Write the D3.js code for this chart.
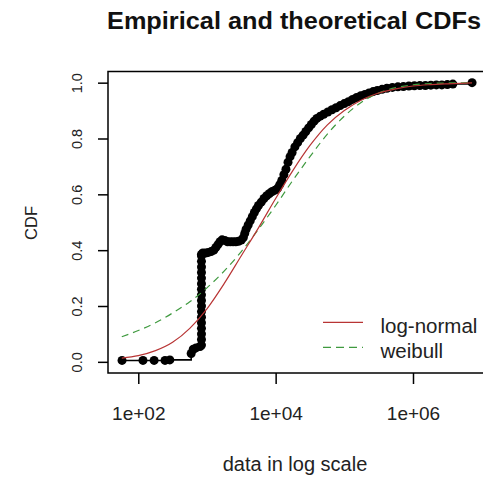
<!DOCTYPE html>
<html>
<head>
<meta charset="utf-8">
<script src="https://cdn.jsdelivr.net/npm/d3@7"></script>
<style>
  body { margin: 0; background: #fff; }
  svg { display: block; font-family: "Liberation Sans", Arial, sans-serif; }
</style>
</head>
<body>
<svg id="chart"></svg>
<script>
// empirical sample (sorted) and its cumulative proportions
const empX = [58, 117, 170, 245, 288, 589, 631, 692, 794,
  832, 832, 832, 832, 832, 832, 832, 832, 832, 832, 832, 832, 832, 832, 832, 832, 832, 832,
  871, 955, 1047, 1148, 1259, 1349, 1445, 1549, 1660, 1820, 1995, 2188, 2399, 2630,
  2884, 3162, 3388, 3548, 3715, 3981, 4266, 4571, 4898, 5248, 5623, 6166, 6761,
  7413, 8128, 8913, 9772, 10720, 11480, 12300, 13180, 14130, 15140, 16220, 17380,
  19050, 20890, 22910, 25120, 27540, 30200, 33110, 36310, 39810, 44670, 50120,
  57540, 66070, 75860, 87100, 100000, 114800, 131800, 151400, 173800, 199500,
  229100, 263000, 302000, 354800, 416900, 501200, 602600, 724400, 871000,
  1047000, 1259000, 1514000, 1820000, 2188000, 2630000, 3162000, 3802000, 7244000];
const empP = [0.005, 0.005, 0.005, 0.005, 0.007, 0.03, 0.045, 0.05, 0.055,
  0.06, 0.08, 0.10, 0.12, 0.14, 0.16, 0.18, 0.20, 0.22, 0.24, 0.26, 0.28, 0.30, 0.32, 0.34, 0.36, 0.38, 0.385,
  0.39, 0.39, 0.392, 0.395, 0.40, 0.41, 0.42, 0.43, 0.437, 0.435, 0.43, 0.43, 0.43, 0.43,
  0.432, 0.436, 0.445, 0.46, 0.475, 0.49, 0.505, 0.52, 0.535, 0.548, 0.56, 0.572, 0.585,
  0.595, 0.603, 0.61, 0.615, 0.622, 0.635, 0.65, 0.67, 0.69, 0.715, 0.735, 0.75,
  0.77, 0.785, 0.80, 0.812, 0.825, 0.838, 0.85, 0.862, 0.872, 0.88, 0.887,
  0.895, 0.903, 0.91, 0.918, 0.925, 0.932, 0.94, 0.947, 0.953, 0.958,
  0.963, 0.968, 0.972, 0.976, 0.98, 0.983, 0.985, 0.986, 0.988,
  0.989, 0.99, 0.99, 0.991, 0.992, 0.992, 0.993, 0.995, 1.0];

// theoretical curves read at a grid of x values
const fitX = [57.5, 100, 178, 316, 562, 1000, 1778, 3162, 5623, 10000, 17783,
  31623, 56234, 100000, 177828, 316228, 562341, 1000000, 1778279, 3162278, 7244360];
const lognormP = [0.013, 0.022, 0.04, 0.07, 0.12, 0.19, 0.28, 0.38, 0.48, 0.585, 0.685,
  0.775, 0.848, 0.90, 0.938, 0.963, 0.978, 0.988, 0.993, 0.996, 0.999];
const weibullP = [0.09, 0.112, 0.14, 0.175, 0.215, 0.265, 0.325, 0.395, 0.475, 0.56, 0.65,
  0.735, 0.815, 0.88, 0.93, 0.963, 0.982, 0.992, 0.997, 0.999, 1.0];

const xTicks = [1e2, 1e4, 1e6];
const xTickLabels = ["1e+02", "1e+04", "1e+06"];
const yTicks = [0, 0.2, 0.4, 0.6, 0.8, 1.0];
const legendNames = ["log-normal", "weibull"];

const width = 483;
const height = 477;
const plot = { left: 108, right: 486, top: 71.5, bottom: 373 };
const red = "#b83434";
const green = "#3f9a3f";

const svg = d3.select("#chart").attr("width", width).attr("height", height);

const x = d3.scaleLog()
  .domain([Math.pow(10, 1.559), Math.pow(10, 7.063)])
  .range([plot.left, plot.right]);

const y = d3.scaleLinear()
  .domain([-0.04, 1.04])
  .range([plot.bottom, plot.top]);

// empirical cdf: steps then points
const emp = empX.map((v, i) => ({ x: v, p: empP[i] }));

svg.append("path")
  .datum(emp)
  .attr("fill", "none")
  .attr("stroke", "#000")
  .attr("stroke-width", 1.6)
  .attr("d", d3.line().x(d => x(d.x)).y(d => y(d.p)).curve(d3.curveStepAfter));

svg.append("g")
  .selectAll("circle")
  .data(emp)
  .join("circle")
  .attr("cx", d => x(d.x))
  .attr("cy", d => y(d.p))
  .attr("r", 4.5)
  .attr("fill", "#000");

// fitted distributions
const fitLine = d3.line().x(d => x(d.x)).y(d => y(d.p)).curve(d3.curveMonotoneX);

svg.append("path")
  .datum(fitX.map((v, i) => ({ x: v, p: weibullP[i] })))
  .attr("fill", "none")
  .attr("stroke", green)
  .attr("stroke-width", 1.2)
  .attr("stroke-dasharray", "7,5")
  .attr("d", fitLine);

svg.append("path")
  .datum(fitX.map((v, i) => ({ x: v, p: lognormP[i] })))
  .attr("fill", "none")
  .attr("stroke", red)
  .attr("stroke-width", 1.2)
  .attr("d", fitLine);

// frame
svg.append("rect")
  .attr("x", plot.left)
  .attr("y", plot.top)
  .attr("width", plot.right - plot.left)
  .attr("height", plot.bottom - plot.top)
  .attr("fill", "none")
  .attr("stroke", "#000")
  .attr("stroke-width", 1.5);

// x axis
const xAxis = svg.append("g")
  .attr("transform", `translate(0,${plot.bottom})`)
  .call(d3.axisBottom(x).tickValues(xTicks).tickSize(11).tickSizeOuter(0)
    .tickFormat((d, i) => xTickLabels[i]));
xAxis.select(".domain").remove();
xAxis.selectAll("line").attr("stroke-width", 1.5);
xAxis.selectAll("text")
  .attr("y", 47)
  .attr("dy", null)
  .attr("fill", "#222")
  .attr("font-family", null)
  .attr("font-size", 19);

// y axis
const yAxis = svg.append("g")
  .attr("transform", `translate(${plot.left},0)`)
  .call(d3.axisLeft(y).tickValues(yTicks).tickSize(10).tickSizeOuter(0)
    .tickFormat(d3.format(".1f")));
yAxis.select(".domain").remove();
yAxis.selectAll("line").attr("stroke-width", 1.5);
yAxis.selectAll("text")
  .attr("x", null)
  .attr("dy", null)
  .attr("text-anchor", "middle")
  .attr("transform", "translate(-26.3,0) rotate(-90)")
  .attr("fill", "#222")
  .attr("font-family", null)
  .attr("font-size", 14.5);

// titles
svg.append("text")
  .attr("x", 107)
  .attr("y", 29)
  .attr("textLength", 374)
  .attr("lengthAdjust", "spacingAndGlyphs")
  .attr("font-size", 23)
  .attr("font-weight", "bold")
  .attr("fill", "#111")
  .text("Empirical and theoretical CDFs");

svg.append("text")
  .attr("x", 295)
  .attr("y", 471)
  .attr("text-anchor", "middle")
  .attr("font-size", 20)
  .attr("fill", "#222")
  .text("data in log scale");

svg.append("text")
  .attr("transform", "translate(36.5,223) rotate(-90)")
  .attr("text-anchor", "middle")
  .attr("font-size", 16.5)
  .attr("fill", "#222")
  .text("CDF");

// legend
const legend = svg.append("g");
const legendColors = [red, green];
const legendDash = [null, "8,5"];
legendNames.forEach((name, i) => {
  const ly = 322.3 + i * 25;
  legend.append("line")
    .attr("x1", 323).attr("x2", 363)
    .attr("y1", ly).attr("y2", ly)
    .attr("stroke", legendColors[i])
    .attr("stroke-width", 1.3)
    .attr("stroke-dasharray", legendDash[i]);
  legend.append("text")
    .attr("x", 380.5)
    .attr("y", ly + 10.5)
    .attr("font-size", 20.5)
    .attr("fill", "#222")
    .text(name);
});
</script>
</body>
</html>
